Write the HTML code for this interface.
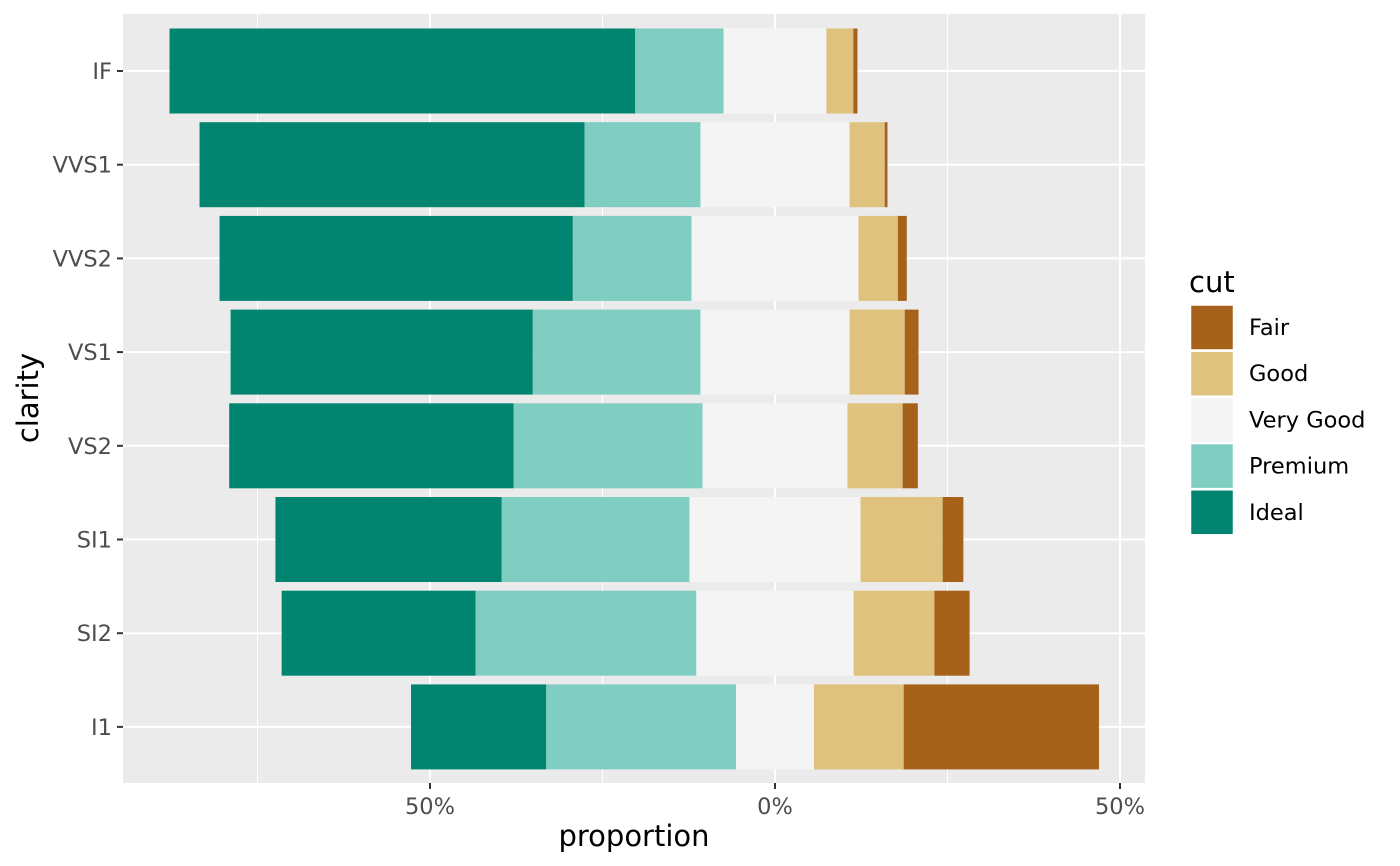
<!DOCTYPE html>
<html><head><meta charset="utf-8"><style>
html,body{margin:0;padding:0;background:#fff;}
svg{display:block;font-family:"DejaVu Sans","Liberation Sans",sans-serif;}
</style></head><body>
<svg id="chart" width="1400" height="866"></svg>
<script>
const categories = ["IF","VVS1","VVS2","VS1","VS2","SI1","SI2","I1"];
const cuts = ["Fair","Good","Very Good","Premium","Ideal"];
const fair     = [0.6, 0.4, 1.3, 2.0, 2.2, 3.0, 5.1, 28.3];
const good     = [3.9, 5.1, 5.7, 8.0, 8.0, 11.9, 11.7, 13.0];
const veryGood = [14.9, 21.6, 24.2, 21.6, 21.0, 24.8, 22.8, 11.3];
const premium  = [12.8, 16.8, 17.2, 24.3, 27.4, 27.2, 32.0, 27.5];
const ideal    = [67.5, 55.8, 51.2, 43.8, 41.2, 32.8, 28.1, 19.6];
const tickValues = [-50, 0, 50];
const tickLabels = ["50%","0%","50%"];
const colors = {"Fair":"#A6611A","Good":"#DFC27D","Very Good":"#F4F4F4","Premium":"#80CDC1","Ideal":"#018571"};

const NS="http://www.w3.org/2000/svg";
const svg=document.getElementById('chart');
function mk(tag,attrs,parent){const e=document.createElementNS(NS,tag);for(const k in attrs)e.setAttribute(k,attrs[k]);(parent||svg).appendChild(e);return e;}
const panel={x0:123,x1:1145,y0:14,y1:783};
const xScale=v=>775+v*6.9;
const yScale=i=>71+i*93.7;
const barH=85;

const bg=mk('rect',{x:panel.x0,y:panel.y0,width:panel.x1-panel.x0,height:panel.y1-panel.y0,fill:'#EBEBEB'});


[-75,-25,25].forEach(v=>{
  const l=mk('line',{x1:xScale(v),x2:xScale(v),y1:panel.y0,y2:panel.y1,stroke:'#fff','stroke-width':1});
  
  
});
tickValues.forEach(v=>{
  const l=mk('line',{x1:xScale(v),x2:xScale(v),y1:panel.y0,y2:panel.y1,stroke:'#fff','stroke-width':2});
  
  
});
categories.forEach((c,i)=>{
  const l=mk('line',{x1:panel.x0,x2:panel.x1,y1:yScale(i),y2:yScale(i),stroke:'#fff','stroke-width':2});
  
  
});
categories.forEach((c,i)=>{
  const vals={"Fair":fair[i],"Good":good[i],"Very Good":veryGood[i],"Premium":premium[i],"Ideal":ideal[i]};
  const start=-veryGood[i]/2-premium[i]-ideal[i];
  let cur=start;
  ["Ideal","Premium","Very Good","Good","Fair"].forEach(k=>{
    const r=mk('rect',{x:xScale(cur),y:yScale(i)-barH/2,width:vals[k]*6.9,height:barH,fill:colors[k]});
    
    
    cur+=vals[k];
  });
  const t=mk('line',{x1:panel.x0-6,x2:panel.x0,y1:yScale(i),y2:yScale(i),stroke:'#333','stroke-width':2});
  
  
  const lb=mk('text',{x:panel.x0-11,y:yScale(i)+8,'text-anchor':'end','font-size':22.5,fill:'#4D4D4D'});
  lb.textContent=c;
  
  
});
tickValues.forEach((v,i)=>{
  const t=mk('line',{x1:xScale(v),x2:xScale(v),y1:panel.y1,y2:panel.y1+6,stroke:'#333','stroke-width':2});
  
  
  const lb=mk('text',{x:xScale(v),y:814,'text-anchor':'middle','font-size':22.5,fill:'#4D4D4D'});
  lb.textContent=tickLabels[i];
  
  
});
const xt=mk('text',{x:634,y:846,'text-anchor':'middle','font-size':29,fill:'#000'});
xt.textContent='proportion';


const yt=mk('text',{x:38,y:398,'text-anchor':'middle','font-size':29,fill:'#000',transform:'rotate(-90 38 398)'});
yt.textContent='clarity';


const lt=mk('text',{x:1189,y:292,'font-size':29,fill:'#000'});
lt.textContent='cut';


cuts.forEach((k,i)=>{
  const y=305+i*46.2;
  const r=mk('rect',{x:1190.5,y:y,width:43,height:45,fill:colors[k],stroke:'#fff','stroke-width':1.5});
  
  
  const t=mk('text',{x:1249,y:y+30,'font-size':22.5,fill:'#000'});
  t.textContent=k;
  
  
});
</script>
</body></html>
